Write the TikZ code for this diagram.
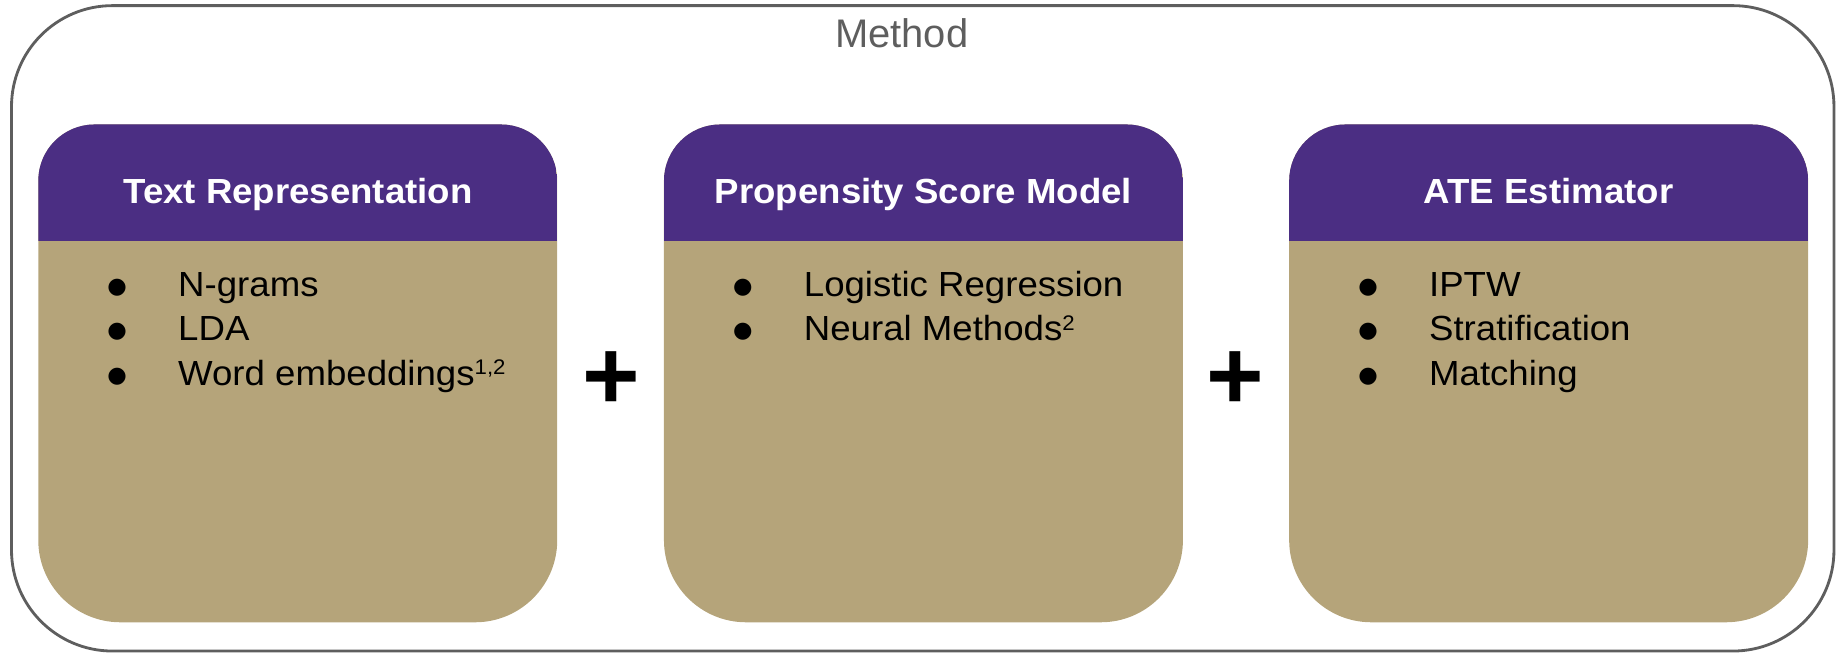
\documentclass[tikz,border=0pt]{standalone}
\usepackage{graphicx}
\usepackage{fontspec}
\setmainfont{Liberation Sans}[FakeStretch=1.05]
\newfontfamily\framefont{Liberation Sans}
\newfontfamily\plusfont{Liberation Sans}
\newfontfamily\dotfont{DejaVu Sans}
\definecolor{uwpurple}{HTML}{4B2E83}
\definecolor{uwgold}{HTML}{B5A47A}
\definecolor{framegray}{HTML}{5E5E5E}
% small raised reference numbers after an item
\newcommand\supnote[1]{{\fontsize{18bp}{18bp}\selectfont\raisebox{9bp}{#1}}}
% one list line: bullet centred on the node's origin, item text 52bp to its right
\newcommand\bulletitem[1]{\makebox[52bp][l]{\makebox[0pt][c]{\raisebox{2.7bp}{\dotfont\fontsize{19bp}{19bp}\selectfont ●}}}#1}

\begin{document}
\begin{tikzpicture}[x=1bp,y=-1bp,
  titletext/.style={text=white,font=\fontsize{29.7bp}{30bp}\selectfont\bfseries,inner sep=0pt,anchor=base},
  itemtext/.style={text=black,font=\fontsize{29.7bp}{30bp}\selectfont,inner sep=0pt,anchor=base west},
  plussign/.style={text=black,font=\plusfont\fontsize{84bp}{84bp}\selectfont\bfseries,inner sep=0pt},
  heading/.style={text=framegray,font=\framefont\fontsize{34bp}{34bp}\selectfont,inner sep=0pt,anchor=base}]

\useasboundingbox (0,0) rectangle (1568,556);

% outer frame
\draw[framegray,line width=2.4bp,rounded corners=86bp] (9.8,4.8) rectangle (1562,554.5);
\node[heading] (method) at (768,40.6) {Method};

% the three cards: gold body with a purple header band
\foreach \L in {32.6,565.5,1098}{
  \fill[uwgold] (\L,300) [rounded corners=48bp] -- (\L,106) -- ({\L+442},106) -- ({\L+442},300)
    [rounded corners=70bp] -- ({\L+442},530) -- (\L,530) -- cycle;
  \begin{scope}
    \clip (\L,300) [rounded corners=48bp] -- (\L,106) -- ({\L+442},106) -- ({\L+442},300) -- cycle;
    \fill[uwpurple] (\L,100) rectangle ({\L+442},205);
  \end{scope}
}

% card titles
\node[titletext] (title1) at (253.8,173.7) {Text Representation};
\node[titletext] (title2) at (786.5,173.7) {Propensity Score Model};
\node[titletext] (title3) at (1319,173.7) {ATE Estimator};

% card 1 items
\node[itemtext] (i1a) at (99.6,252.7) {\bulletitem{N-grams}};
\node[itemtext] (i1b) at (99.6,290.4) {\bulletitem{LDA}};
\node[itemtext] (i1c) at (99.6,328.1) {\bulletitem{Word embeddings\supnote{1,2}}};

% card 2 items
\node[itemtext] (i2a) at (632.5,252.7) {\bulletitem{Logistic Regression}};
\node[itemtext] (i2b) at (632.5,290.4) {\bulletitem{Neural Methods\supnote{2}}};

% card 3 items
\node[itemtext] (i3a) at (1165,252.7) {\bulletitem{IPTW}};
\node[itemtext] (i3b) at (1165,290.4) {\bulletitem{Stratification}};
\node[itemtext] (i3c) at (1165,328.1) {\bulletitem{Matching}};

% plus signs between the cards
\node[plussign] (plus1) at (520.5,324.5) {+};
\node[plussign] (plus2) at (1052.5,324.5) {+};
\end{tikzpicture}
\end{document}
